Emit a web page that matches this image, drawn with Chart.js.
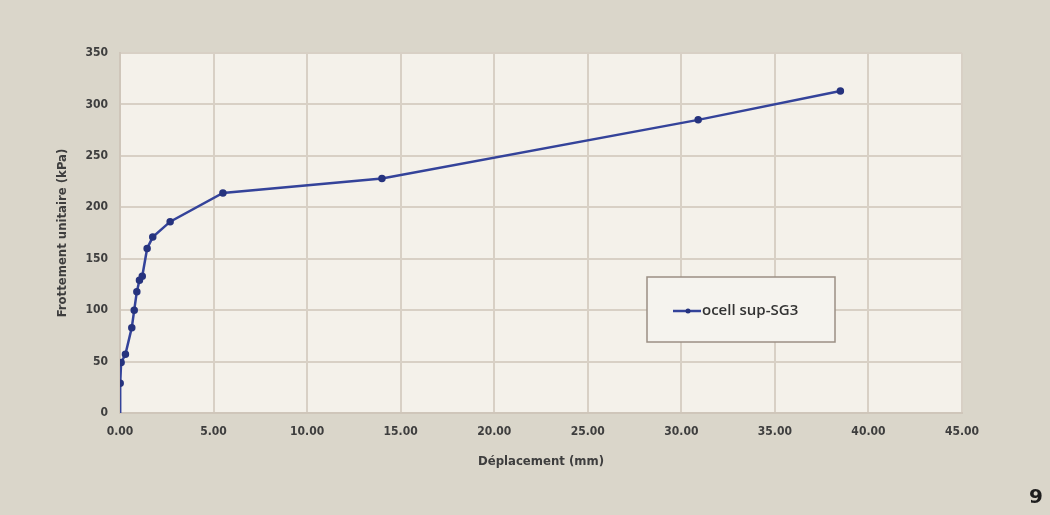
<!DOCTYPE html>
<html>
<head>
<meta charset="utf-8">
<script src="https://cdn.jsdelivr.net/npm/chart.js@4.4.1/dist/chart.umd.min.js"></script>
<style>
  html, body { margin: 0; padding: 0; background: #dad6ca; }
  #wrap { width: 1050px; height: 515px; position: relative; }
</style>
</head>
<body>
<div id="wrap"><canvas id="chart" width="1050" height="515"></canvas></div>
<script>
const deplacement = [0, 0.01, 0.06, 0.29, 0.63, 0.76, 0.90, 1.04, 1.19, 1.45, 1.75, 2.68, 5.50, 14.0, 30.9, 38.5];
const frottement = [0, 29, 49, 57, 83, 100, 118, 129, 133, 160, 171, 186, 214, 228, 285, 313];
const serieLabel = 'ocell sup-SG3';
const xTitle = 'Déplacement (mm)';
const yTitle = 'Frottement unitaire (kPa)';
const pageNumber = '9';

const lineColor = '#34439a';
const markerColor = '#26337e';
const tickFont = { family: 'DejaVu Sans Condensed', size: 12, weight: 'bold' };
const gridColor = '#d8d0c5';

const points = deplacement.map((x, i) => ({ x: x, y: frottement[i] }));

const background = {
    id: 'background',
    beforeDraw(chart) {
        const { ctx, chartArea } = chart;
        ctx.save();
        ctx.fillStyle = '#dad6ca';
        ctx.fillRect(0, 0, chart.width, chart.height);
        ctx.fillStyle = '#f4f1ea';
        ctx.fillRect(chartArea.left, chartArea.top, chartArea.right - chartArea.left, chartArea.bottom - chartArea.top);
        ctx.restore();
    },
    afterDraw(chart) {
        const { ctx } = chart;
        ctx.save();
        ctx.font = 'bold 20px "DejaVu Sans"';
        ctx.fillStyle = '#1e1e1e';
        ctx.textAlign = 'center';
        ctx.textBaseline = 'middle';
        ctx.fillText(pageNumber, 1036, 498);
        ctx.restore();
    },
};

// legend box drawn inside the plot like the Excel one
const legendBox = {
    id: 'legendBox',
    afterDatasetsDraw(chart) {
        const { ctx } = chart;
        const ds = chart.data.datasets[0];
        ctx.save();
        ctx.fillStyle = '#f5f3ee';
        ctx.fillRect(647, 277, 188, 65);
        ctx.strokeStyle = '#9b8f84';
        ctx.lineWidth = 1.5;
        ctx.strokeRect(647, 277, 188, 65);
        ctx.strokeStyle = ds.borderColor;
        ctx.lineWidth = 2.5;
        ctx.beginPath();
        ctx.moveTo(673, 311);
        ctx.lineTo(701, 311);
        ctx.stroke();
        ctx.fillStyle = markerColor;
        ctx.beginPath();
        ctx.arc(688, 311, 2.5, 0, Math.PI * 2);
        ctx.fill();
        ctx.font = '600 15px "Open Sans"';
        ctx.fillStyle = '#333';
        ctx.textBaseline = 'middle';
        ctx.fillText(ds.label, 702, 311);
        ctx.restore();
    },
};

const ctx = document.getElementById('chart').getContext('2d');

const chart = new Chart(ctx, {
    type: 'scatter',
    data: {
        datasets: [{
            label: serieLabel,
            data: points,
            showLine: true,
            borderColor: lineColor,
            backgroundColor: markerColor,
            pointBorderColor: markerColor,
            borderWidth: 2.5,
            pointRadius: (c) => (c.dataIndex === 0 ? 0 : 2.5),
            pointHoverRadius: 2.5,
            tension: 0,
        }],
    },
    options: {
        responsive: false,
        animation: false,
        layout: {
            padding: { left: 0, top: 53, right: 88, bottom: 0 },
        },
        plugins: {
            legend: { display: false },
            tooltip: { enabled: false },
        },
        scales: {
            x: {
                type: 'linear',
                min: 0,
                max: 45,
                ticks: {
                    stepSize: 5,
                    padding: 12,
                    color: '#3e3e3e',
                    font: tickFont,
                    callback: (v) => Number(v).toFixed(2),
                },
                grid: { color: gridColor, lineWidth: 2, drawTicks: false },
                border: { color: '#cfc6ba', width: 2 },
                title: {
                    display: true,
                    text: xTitle,
                    color: '#3e3e3e',
                    font: { family: 'DejaVu Sans Condensed', size: 13, weight: 'bold' },
                    padding: { top: 0, bottom: 46 },
                },
                afterFit(scale) { scale.height = 102; },
            },
            y: {
                min: 0,
                max: 350,
                ticks: {
                    stepSize: 50,
                    padding: 12,
                    color: '#3e3e3e',
                    font: tickFont,
                },
                grid: { color: gridColor, lineWidth: 2, drawTicks: false },
                border: { color: '#cfc6ba', width: 2 },
                title: {
                    display: true,
                    text: yTitle,
                    color: '#3e3e3e',
                    font: { family: 'DejaVu Sans Condensed', size: 13, weight: 'bold' },
                    padding: { top: 55, bottom: 0 },
                },
                afterFit(scale) { scale.width = 120; },
            },
        },
    },
    plugins: [background, legendBox],
});
</script>
</body>
</html>
